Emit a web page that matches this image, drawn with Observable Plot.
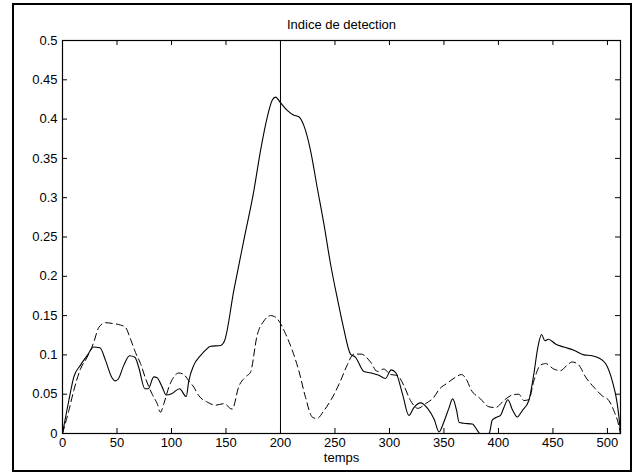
<!DOCTYPE html>
<html>
<head>
<meta charset="utf-8">
<script src="https://cdn.jsdelivr.net/npm/d3@7"></script>
<script src="https://cdn.jsdelivr.net/npm/@observablehq/plot@0.6"></script>
<style>
  html, body { margin: 0; padding: 0; background: #fff; }
  #wrap { position: relative; width: 642px; height: 474px; }
  #border { position: absolute; left: 12px; top: 3px; width: 616px; height: 465px; border: 2px solid #000; pointer-events: none; }
</style>
</head>
<body>
<div id="wrap"><div id="border"></div></div>
<script>
// Series
const solidT = [0,5.8,10.4,16.5,22.6,28.7,34.3,39.5,45,48.6,51,56.3,61.5,66.4,70,75.5,78.6,83.8,86.8,91.5,95.1,100.6,107.4,113.5,115.9,120.5,126.6,131.2,135.8,145,148.7,157.2,166.4,175.6,181.7,187.8,192.4,195.5,200,206.2,212.3,216.8,221.4,227.6,233.7,239.8,245.9,252.6,258.1,264.3,268.9,276.5,283,290.2,296.4,301.5,306,312,317.8,322.4,328.5,335,341,345.5,350,354.5,358,361.5,364,368.3,376,380.6,383,391,392,394.3,398.9,401.9,405,408.7,412.6,417.2,421.8,427.9,432.5,436.2,439.6,442.6,445.7,452.4,460,469.2,478.4,486,492.1,498.3,504.4,509,511.4,512];
const solidV = [0,0.042,0.072,0.087,0.099,0.110,0.109,0.093,0.072,0.067,0.069,0.087,0.099,0.097,0.084,0.057,0.057,0.072,0.071,0.059,0.049,0.051,0.057,0.047,0.067,0.087,0.099,0.106,0.111,0.112,0.118,0.182,0.246,0.309,0.360,0.402,0.424,0.428,0.421,0.411,0.405,0.403,0.392,0.360,0.313,0.267,0.216,0.169,0.133,0.101,0.097,0.079,0.077,0.074,0.070,0.081,0.077,0.050,0.023,0.033,0.039,0.032,0.018,0.002,0.015,0.032,0.044,0.030,0.014,0.013,0.012,0.004,0,0,0.002,0.017,0.021,0.023,0.033,0.043,0.031,0.021,0.029,0.042,0.076,0.110,0.126,0.118,0.120,0.114,0.110,0.106,0.100,0.099,0.096,0.089,0.067,0.038,0.010,0];

const dashT = [0,5.8,10.4,16.5,22.6,28.7,33.3,39.5,45.6,53.2,57.8,62.4,67,71.6,76.2,82.3,86.9,89.9,93,97.6,101.2,106.7,111.3,115.9,120.5,125.1,132.8,140.4,148,155.7,161.8,168,172.5,178.6,184.7,190.9,195.5,200,204.6,210.8,216.8,223,229.1,233.5,239.8,246.5,255.1,261.2,267.3,274,282.6,288.8,294.8,301,307.1,313.2,319.3,326,333.1,340.7,345.5,353,360,366,371.3,374.4,383.6,391.2,397.3,405,412.6,418.7,423.3,427.9,432.5,438.6,443.2,450.8,457,463.1,467.7,473.8,479.9,487.5,495.2,501.3,505.9,510.5,512];
const dashV = [0,0.029,0.055,0.082,0.097,0.116,0.135,0.141,0.140,0.138,0.135,0.120,0.103,0.089,0.070,0.050,0.038,0.027,0.038,0.059,0.070,0.077,0.075,0.067,0.059,0.048,0.040,0.036,0.038,0.031,0.060,0.072,0.078,0.125,0.143,0.150,0.148,0.140,0.127,0.106,0.080,0.046,0.021,0.019,0.029,0.043,0.067,0.087,0.101,0.101,0.091,0.079,0.082,0.075,0.074,0.061,0.042,0.032,0.038,0.046,0.056,0.064,0.071,0.075,0.067,0.057,0.044,0.034,0.033,0.042,0.049,0.050,0.042,0.043,0.067,0.087,0.089,0.082,0.080,0.087,0.091,0.087,0.072,0.059,0.048,0.042,0.029,0.010,0];

const xTicks = [0,50,100,150,200,250,300,350,400,450,500];
const yTicks = [0,0.05,0.1,0.15,0.2,0.25,0.3,0.35,0.4,0.45,0.5];
const markerX = [200];
const titleText = "Indice de detection";
const xLabel = "temps";

const solid = solidT.map((t, i) => ({t, v: solidV[i]}));
const dashed = dashT.map((t, i) => ({t, v: dashV[i]}));
const fmt = d => String(+d.toFixed(2));

const W = 642, H = 474, mL = 62, mR = 22, mT = 40, mB = 41, tick = 5;
const fw = W - mL - mR, fh = H - mT - mB;

const chart = Plot.plot({
  width: W,
  height: H,
  marginLeft: mL,
  marginRight: mR,
  marginTop: mT,
  marginBottom: mB,
  style: { fontFamily: "'Liberation Sans', Arial, Helvetica, sans-serif", fontSize: "13px", color: "#000", background: "transparent" },
  x: { domain: [0, 512] },
  y: { domain: [0, 0.5] },
  marks: [
    Plot.axisX(xTicks, { anchor: "bottom", tickSize: 0, tickPadding: 4, tickFormat: fmt, label: null }),
    Plot.axisY(yTicks, { anchor: "left", tickSize: 0, tickPadding: 5, tickFormat: fmt, label: null }),
    // inward ticks on all four sides
    Plot.tickX(xTicks, { x: d => d, stroke: "#000", insetTop: fh - tick }),
    Plot.tickX(xTicks, { x: d => d, stroke: "#000", insetBottom: fh - tick }),
    Plot.tickY(yTicks, { y: d => d, stroke: "#000", insetRight: fw - tick }),
    Plot.tickY(yTicks, { y: d => d, stroke: "#000", insetLeft: fw - tick }),
    Plot.ruleX(markerX, { stroke: "#000", strokeWidth: 1 }),
    Plot.line(dashed, { x: "t", y: "v", stroke: "#000", strokeWidth: 1, strokeDasharray: "7,4", curve: "monotone-x" }),
    Plot.line(solid, { x: "t", y: "v", stroke: "#000", strokeWidth: 1.1, curve: "monotone-x" }),
    Plot.frame({ stroke: "#000", strokeWidth: 1.2 }),
    Plot.text([titleText], { frameAnchor: "top", dy: -21, fontSize: 13, fill: "#000" }),
    Plot.text([xLabel], { frameAnchor: "bottom", dy: 28, fontSize: 13, fill: "#000" })
  ]
});
document.getElementById("wrap").prepend(chart);
</script>
</body>
</html>
